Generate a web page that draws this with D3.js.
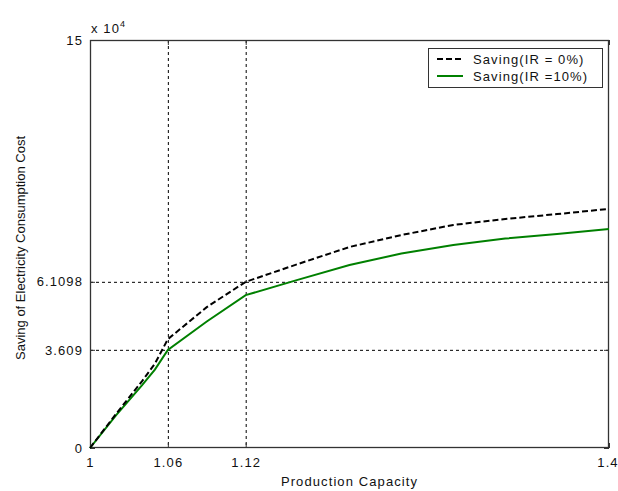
<!DOCTYPE html>
<html>
<head>
<meta charset="utf-8">
<script src="https://cdn.jsdelivr.net/npm/d3@7"></script>
<style>
  html, body { margin: 0; padding: 0; background: #fff; }
  svg text { font-family: "Liberation Sans", Arial, sans-serif; font-size: 13px; fill: #111; letter-spacing: 1.1px; }
  svg text.vertical { letter-spacing: 0; }
</style>
</head>
<body>
<svg id="chart" width="618" height="491"></svg>
<script>
// Production capacity (x) and savings in units of 10^4
const capacity = [1, 1.02, 1.04, 1.05, 1.06, 1.09, 1.12, 1.16, 1.2, 1.24, 1.28, 1.32, 1.36, 1.4];
const savingIR0 = [0, 1.25, 2.45, 3.1, 4.0, 5.18, 6.1098, 6.76, 7.39, 7.83, 8.2, 8.42, 8.6, 8.79];
const savingIR10 = [0, 1.2, 2.3, 2.88, 3.609, 4.65, 5.62, 6.18, 6.73, 7.15, 7.46, 7.7, 7.87, 8.05];

const xTicks = [1, 1.06, 1.12, 1.4];
const yTicks = [0, 3.609, 6.1098, 15];
const xGrid = [1.06, 1.12];
const yGrid = [3.609, 6.1098];

const seriesNames = ["Saving(IR = 0%)", "Saving(IR =10%)"];

const svg = d3.select("#chart");
const plotLeft = 90, plotRight = 609, plotTop = 40, plotBottom = 448;

const x = d3.scaleLinear().domain([1, 1.4]).range([plotLeft, plotRight]);
const y = d3.scaleLinear().domain([0, 15]).range([plotBottom, plotTop]);

// grid lines at the marked operating points
svg.append("g").selectAll("line").data(xGrid).join("line")
  .attr("x1", d => x(d) + 0.5).attr("x2", d => x(d) + 0.5)
  .attr("y1", plotTop).attr("y2", plotBottom)
  .attr("stroke", "#000").attr("stroke-width", 1).attr("stroke-dasharray", "3,3");
svg.append("g").selectAll("line").data(yGrid).join("line")
  .attr("x1", plotLeft).attr("x2", plotRight)
  .attr("y1", d => y(d) + 0.5).attr("y2", d => y(d) + 0.5)
  .attr("stroke", "#000").attr("stroke-width", 1).attr("stroke-dasharray", "3,3");

// axes with inward ticks
const fmt = d => String(d);
const xAxis = svg.append("g").attr("transform", `translate(0,${plotBottom})`)
  .call(d3.axisBottom(x).tickValues(xTicks).tickFormat(fmt).tickSizeInner(-5).tickSizeOuter(0).tickPadding(10));
const yAxis = svg.append("g").attr("transform", `translate(${plotLeft},0)`)
  .call(d3.axisLeft(y).tickValues(yTicks).tickFormat(fmt).tickSizeInner(-5).tickSizeOuter(0).tickPadding(7));
const xAxisTop = svg.append("g").attr("transform", `translate(0,${plotTop})`)
  .call(d3.axisTop(x).tickValues(xTicks).tickFormat("").tickSizeInner(-5).tickSizeOuter(0));
const yAxisRight = svg.append("g").attr("transform", `translate(${plotRight},0)`)
  .call(d3.axisRight(y).tickValues(yTicks).tickFormat("").tickSizeInner(-5).tickSizeOuter(0));

[xAxis, yAxis, xAxisTop, yAxisRight].forEach(g => {
  g.select(".domain").remove();
  g.selectAll(".tick line").attr("stroke", "#333");
  g.attr("font-family", null).attr("font-size", null);
  g.selectAll("text").attr("fill", null);
});
// keep the last x label inside the page
xAxis.selectAll(".tick text").filter(d => d === 1.4).attr("dx", -1.5);

// plot frame
svg.append("rect")
  .attr("x", plotLeft + 0.5).attr("y", plotTop + 0.5)
  .attr("width", plotRight - plotLeft - 1).attr("height", plotBottom - plotTop - 1)
  .attr("fill", "none").attr("stroke", "#333").attr("stroke-width", 1.3);

// curves
const line = d3.line().x(d => x(d[0])).y(d => y(d[1]));
const ir0 = capacity.map((c, i) => [c, savingIR0[i]]);
const ir10 = capacity.map((c, i) => [c, savingIR10[i]]);

svg.append("path").datum(ir10).attr("d", line)
  .attr("fill", "none").attr("stroke", "#008000").attr("stroke-width", 2);
svg.append("path").datum(ir0).attr("d", line)
  .attr("fill", "none").attr("stroke", "#000").attr("stroke-width", 2).attr("stroke-dasharray", "6,3");

// exponent label
const expo = svg.append("text").attr("x", 91).attr("y", 33);
expo.append("tspan").text("x 10");
expo.append("tspan").attr("dy", -6).style("font-size", "9px").text("4");

// axis titles
svg.append("text").attr("x", (plotLeft + plotRight) / 2).attr("y", 486)
  .attr("text-anchor", "middle").text("Production Capacity");
svg.append("text").attr("class", "vertical")
  .attr("transform", `translate(25,248) rotate(-90)`)
  .attr("text-anchor", "middle").text("Saving of Electricity Consumption Cost");

// legend
const lg = svg.append("g");
lg.append("rect").attr("x", 428.5).attr("y", 48.5).attr("width", 174).attr("height", 39)
  .attr("fill", "#fff").attr("stroke", "#333").attr("stroke-width", 1);
const legendItems = [
  { name: seriesNames[0], color: "#000", dash: "6,3" },
  { name: seriesNames[1], color: "#008000", dash: null }
];
legendItems.forEach((it, i) => {
  const cy = 59 + i * 17;
  lg.append("line").attr("x1", 437).attr("x2", 463).attr("y1", cy).attr("y2", cy)
    .attr("stroke", it.color).attr("stroke-width", 2).attr("stroke-dasharray", it.dash);
  lg.append("text").attr("x", 473).attr("y", cy + 4.5).text(it.name);
});
</script>
</body>
</html>
